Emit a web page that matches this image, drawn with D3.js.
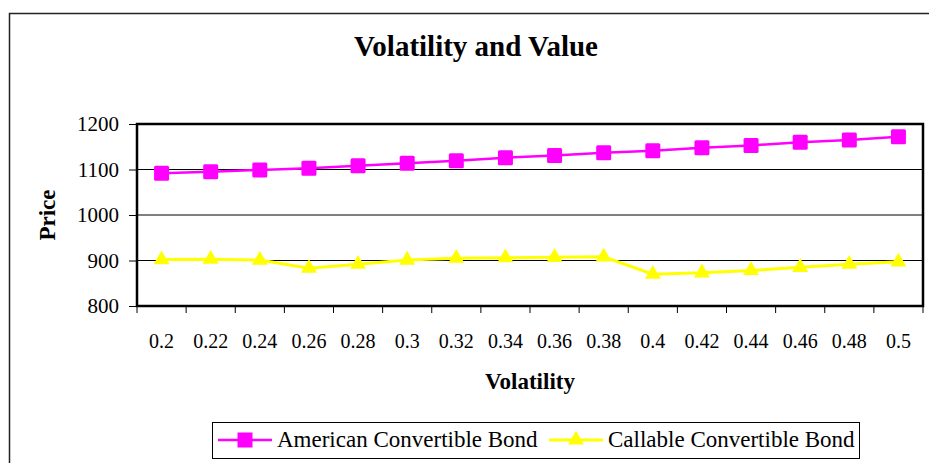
<!DOCTYPE html>
<html>
<head>
<meta charset="utf-8">
<script src="https://cdn.jsdelivr.net/npm/d3@7"></script>
<style>
  html, body { margin: 0; padding: 0; background: #fff; }
  svg { display: block; }
  text { font-family: "Liberation Serif", "Times New Roman", serif; fill: #000; }
</style>
</head>
<body>
<svg id="chart" width="929" height="463"></svg>
<script>
// Volatility levels on the x axis
const volatility = ["0.2", "0.22", "0.24", "0.26", "0.28", "0.3", "0.32", "0.34",
                    "0.36", "0.38", "0.4", "0.42", "0.44", "0.46", "0.48", "0.5"];
// Bond prices for each volatility level
const americanBond = [1092, 1095, 1099, 1103, 1108, 1114, 1119, 1126,
                      1131, 1137, 1141, 1148, 1153, 1160, 1165, 1172];
const callableBond = [902, 903, 901, 883, 892, 901, 905, 906,
                      907, 908, 870, 873, 878, 885, 892, 897];
const priceTicks = [800, 900, 1000, 1100, 1200];

const serif = '"Liberation Serif", "Times New Roman", serif';
const svg = d3.select("#chart");
const plot = { left: 137, top: 124, right: 923, bottom: 306 };

// Outer chart frame
svg.append("rect")
  .attr("x", 9.5).attr("y", 13.5)
  .attr("width", 940).attr("height", 470)
  .attr("fill", "#fff").attr("stroke", "#222").attr("stroke-width", 1.5);

const x = d3.scaleBand().domain(volatility).range([plot.left, plot.right]);
const y = d3.scaleLinear().domain([800, 1200]).range([plot.bottom, plot.top]);

// Horizontal gridlines
svg.append("g")
  .selectAll("line")
  .data(priceTicks.slice(1, -1))
  .join("line")
  .attr("x1", plot.left).attr("x2", plot.right)
  .attr("y1", d => y(d)).attr("y2", d => y(d))
  .attr("stroke", "#000").attr("stroke-width", 1);

// Y axis
const yAxis = svg.append("g")
  .attr("transform", `translate(${plot.left},0)`)
  .call(d3.axisLeft(y).tickValues(priceTicks).tickFormat(d3.format("d"))
    .tickSize(8).tickPadding(10));
yAxis.attr("font-family", serif).attr("font-size", 21);
yAxis.select(".domain").remove();
yAxis.selectAll("line").attr("stroke", "#000").attr("stroke-width", 1);
yAxis.selectAll("text").attr("fill", "#000");

// X axis: ticks at category boundaries
const boundaries = volatility.map(v => x(v)).concat([plot.right]);
svg.append("g")
  .selectAll("line")
  .data(boundaries)
  .join("line")
  .attr("x1", d => d).attr("x2", d => d)
  .attr("y1", plot.bottom).attr("y2", plot.bottom + 7)
  .attr("stroke", "#000").attr("stroke-width", 1);

svg.append("g")
  .attr("font-family", serif).attr("font-size", 20)
  .selectAll("text")
  .data(volatility)
  .join("text")
  .attr("x", d => x(d) + x.bandwidth() / 2)
  .attr("y", 348)
  .attr("text-anchor", "middle")
  .text(d => d);

// Plot frame
svg.append("rect")
  .attr("x", plot.left).attr("y", plot.top)
  .attr("width", plot.right - plot.left).attr("height", plot.bottom - plot.top)
  .attr("fill", "none").attr("stroke", "#000").attr("stroke-width", 2.5);

const cx = i => x(volatility[i]) + x.bandwidth() / 2;
const line = d3.line().x((d, i) => cx(i)).y(d => y(d));

// American convertible bond series
svg.append("path")
  .datum(americanBond)
  .attr("d", line)
  .attr("fill", "none").attr("stroke", "#FF00FF").attr("stroke-width", 2.5);
svg.append("g")
  .selectAll("rect")
  .data(americanBond)
  .join("rect")
  .attr("x", (d, i) => cx(i) - 7.5).attr("y", d => y(d) - 7.5)
  .attr("width", 15).attr("height", 15).attr("rx", 1.5)
  .attr("fill", "#FF00FF");

// Callable convertible bond series
svg.append("path")
  .datum(callableBond)
  .attr("d", line)
  .attr("fill", "none").attr("stroke", "#FFFF00").attr("stroke-width", 3);
const tri = d3.symbol().type(d3.symbolTriangle).size(110);
svg.append("g")
  .selectAll("path")
  .data(callableBond)
  .join("path")
  .attr("transform", (d, i) => `translate(${cx(i)},${y(d)})`)
  .attr("d", tri)
  .attr("fill", "#FFFF00");

// Titles
svg.append("text")
  .attr("x", 476).attr("y", 56)
  .attr("text-anchor", "middle")
  .attr("font-family", serif).attr("font-size", 29).attr("font-weight", "bold")
  .text("Volatility and Value");

svg.append("text")
  .attr("x", 530).attr("y", 389)
  .attr("text-anchor", "middle")
  .attr("font-family", serif).attr("font-size", 23).attr("font-weight", "bold")
  .text("Volatility");

svg.append("text")
  .attr("transform", "translate(55,215) rotate(-90)")
  .attr("text-anchor", "middle")
  .attr("font-family", serif).attr("font-size", 23).attr("font-weight", "bold")
  .text("Price");

// Legend
const legend = svg.append("g");
legend.append("rect")
  .attr("x", 212.5).attr("y", 422.5)
  .attr("width", 647).attr("height", 36)
  .attr("fill", "#fff").attr("stroke", "#000").attr("stroke-width", 1);

const items = [
  { name: "American Convertible Bond", color: "#FF00FF", shape: "square", x: 218 },
  { name: "Callable Convertible Bond", color: "#FFFF00", shape: "triangle", x: 549 }
];
items.forEach(it => {
  const g = legend.append("g").attr("transform", `translate(${it.x},440)`);
  g.append("line").attr("x1", 0).attr("x2", 54).attr("y1", 0).attr("y2", 0)
    .attr("stroke", it.color).attr("stroke-width", it.shape === "square" ? 2.5 : 3);
  if (it.shape === "square") {
    g.append("rect").attr("x", 27 - 7.5).attr("y", -7.5).attr("width", 15).attr("height", 15)
      .attr("fill", it.color);
  } else {
    g.append("path").attr("transform", "translate(27,0)").attr("d", tri).attr("fill", it.color);
  }
  g.append("text").attr("x", 59).attr("y", 7)
    .attr("font-family", serif).attr("font-size", 23)
    .text(it.name);
});
</script>
</body>
</html>
